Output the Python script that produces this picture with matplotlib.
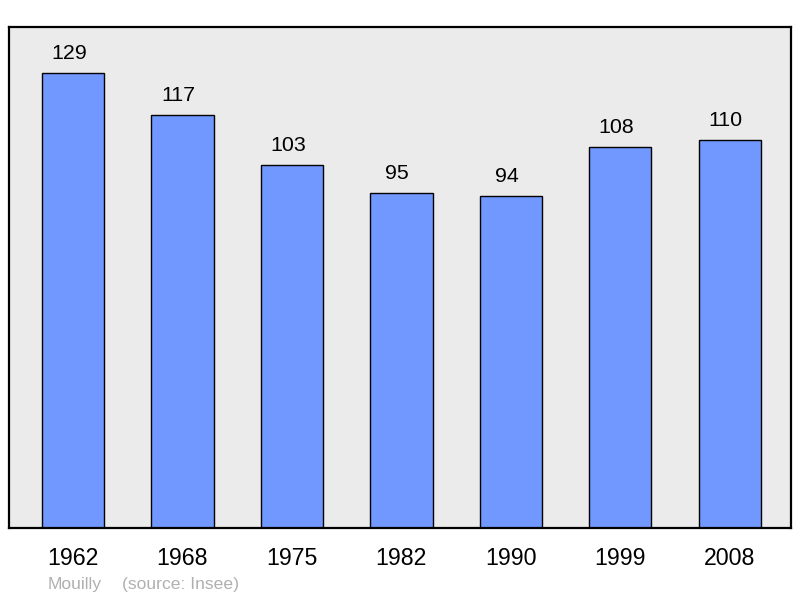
import matplotlib.pyplot as plt

plt.rcParams['font.family'] = ['Liberation Sans', 'DejaVu Sans']

# données population
annees = ['1962', '1968', '1975', '1982', '1990', '1999', '2008']
population = [129, 117, 103, 95, 94, 108, 110]

fig = plt.figure(figsize=(8, 5.98), dpi=100)
ax = fig.add_axes([0.01125, 0.117, 0.9775, 0.838])
ax.set_facecolor('#ebebeb')

x = range(len(annees))
bars = ax.bar(x, population, width=0.57, color='#7098ff', edgecolor='black', linewidth=1.0, zorder=2)

for xi, v in zip(x, population):
    ax.annotate(str(v), (xi, v), xytext=(-3, 10), textcoords='offset points',
                ha='center', va='baseline', fontsize=15.4)

ax.set_xlim(-0.585, 6.56)
ax.set_ylim(0, 142)
ax.set_xticks(list(x))
ax.set_xticklabels(annees, fontsize=16.7)
ax.set_yticks([])
ax.tick_params(axis='x', length=0, pad=14)
for s in ax.spines.values():
    s.set_linewidth(1.6)
    s.set_color('black')

fig.text(48 / 800, 1 - 584 / 598, 'Mouilly', color='#b0b0b0', fontsize=12.6, va='center', ha='left')
fig.text(122 / 800, 1 - 584 / 598, '(source: Insee)', color='#b0b0b0', fontsize=12.6, va='center', ha='left')

fig.savefig('out.png', dpi=100)
